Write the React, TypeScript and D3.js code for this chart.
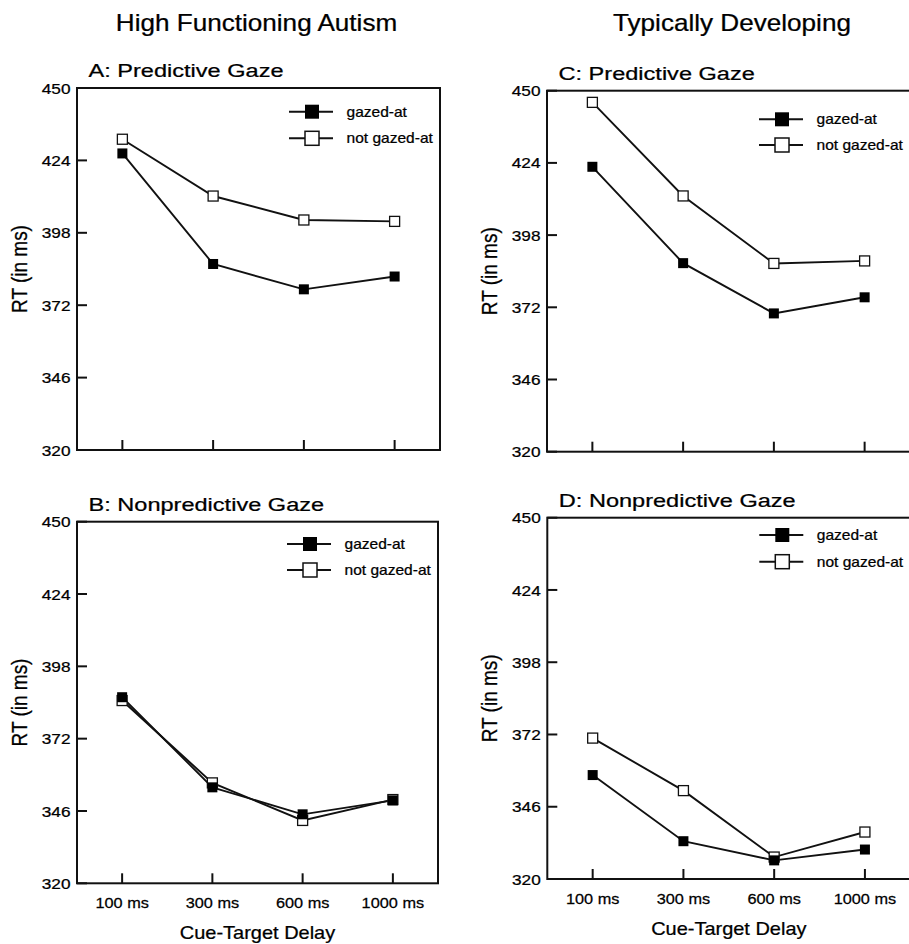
import React, { useEffect, useRef } from 'react';
import * as d3 from 'd3';

const delays = ['100 ms', '300 ms', '600 ms', '1000 ms'];
const yTicks = [320, 346, 372, 398, 424, 450];
const seriesNames = ['gazed-at', 'not gazed-at'];
const groupTitles = ['High Functioning Autism', 'Typically Developing'];

// RT values (ms)
const hfaPredGazed = [426.5, 386.8, 377.7, 382.3];
const hfaPredNot = [431.6, 411.2, 402.6, 402.1];
const hfaNonGazed = [386.9, 354.5, 344.8, 349.8];
const hfaNonNot = [385.7, 356.1, 342.6, 350.1];
const tdPredGazed = [422.6, 387.9, 369.8, 375.6];
const tdPredNot = [445.8, 412.1, 387.8, 388.7];
const tdNonGazed = [357.4, 333.6, 326.7, 330.6];
const tdNonNot = [370.7, 351.8, 327.9, 336.9];

const W = 909;
const H = 944;
const FONT = '"Liberation Sans", Arial, Helvetica, sans-serif';

const panels = [
  { title: 'A: Predictive Gaze', left: 77, top: 88, width: 363, height: 362, gazed: hfaPredGazed, not: hfaPredNot, legendDy: [23.7, 50.3], xLabels: false },
  { title: 'B: Nonpredictive Gaze', left: 77, top: 521.7, width: 361, height: 361.6, gazed: hfaNonGazed, not: hfaNonNot, legendDy: [22.3, 48.3], xLabels: true },
  { title: 'C: Predictive Gaze', left: 547, top: 90.7, width: 363, height: 361, gazed: tdPredGazed, not: tdPredNot, legendDy: [28.6, 54.3], xLabels: false },
  { title: 'D: Nonpredictive Gaze', left: 547.3, top: 517.7, width: 363, height: 361.3, gazed: tdNonGazed, not: tdNonNot, legendDy: [17.3, 44], xLabels: true },
];

export default function App() {
  const svgRef = useRef(null);

  useEffect(() => {
    const svg = d3.select(svgRef.current);
    svg.selectAll('*').remove();

    // the source picture is stretched sideways, so text gets an x scale
    const putText = (sel, x, y, size, sx, extra = '') =>
      sel.attr('transform', `translate(${x},${y}) scale(${sx},1)${extra}`)
        .style('font-size', size + 'px')
        .attr('fill', '#000')
        .attr('stroke', '#000')
        .attr('stroke-width', 0.25);

    [256.5, 732].forEach((cx, i) => {
      svg.append('text')
        .call(putText, cx, 31, 23, 1.135)
        .attr('text-anchor', 'middle')
        .text(groupTitles[i]);
    });

    panels.forEach(p => {
      const g = svg.append('g');
      const x = d3.scalePoint().domain(delays).range([p.left, p.left + p.width]).padding(0.5);
      const y = d3.scaleLinear().domain([320, 450]).range([p.top + p.height, p.top]);
      const right = p.left + p.width;
      const bottom = p.top + p.height;

      g.append('text')
        .call(putText, p.left + 11.5, p.top - 11, 19, 1.24)
        .text(p.title);

      g.append('rect')
        .attr('x', p.left).attr('y', p.top)
        .attr('width', p.width).attr('height', p.height)
        .attr('fill', 'none').attr('stroke', '#111').attr('stroke-width', 2);

      // y ticks point inward
      yTicks.forEach(t => {
        g.append('line')
          .attr('x1', p.left).attr('x2', p.left + 10)
          .attr('y1', y(t)).attr('y2', y(t))
          .attr('stroke', '#111').attr('stroke-width', 2);
        g.append('text')
          .call(putText, p.left - 6.5, y(t), 15.4, 1.12)
          .attr('text-anchor', 'end')
          .attr('dy', '0.36em')
          .text(t);
      });

      delays.forEach(d => {
        g.append('line')
          .attr('x1', x(d)).attr('x2', x(d))
          .attr('y1', bottom).attr('y2', bottom - 10)
          .attr('stroke', '#111').attr('stroke-width', 2);
        if (p.xLabels) {
          g.append('text')
            .call(putText, x(d), bottom + 25, 15.4, 1.06)
            .attr('text-anchor', 'middle')
            .text(d);
        }
      });

      if (p.xLabels) {
        g.append('text')
          .call(putText, p.left + p.width / 2, bottom + 55.5, 18, 1.11)
          .attr('text-anchor', 'middle')
          .text('Cue-Target Delay');
      }

      g.append('text')
        .call(putText, p.left - 58, p.top + p.height / 2, 19, 1.18, ' rotate(-90)')
        .attr('text-anchor', 'middle')
        .attr('dy', '0.36em')
        .text('RT (in ms)');

      const line = d3.line().x((v, i) => x(delays[i])).y(v => y(v));
      [p.not, p.gazed].forEach(vals => {
        g.append('path')
          .attr('d', line(vals))
          .attr('fill', 'none')
          .attr('stroke', '#111')
          .attr('stroke-width', 1.9);
      });

      const ms = 10;
      g.selectAll('.open').data(p.not).enter()
        .append('rect')
        .attr('x', (v, i) => x(delays[i]) - ms / 2)
        .attr('y', v => y(v) - ms / 2)
        .attr('width', ms).attr('height', ms)
        .attr('fill', 'white').attr('stroke', '#111').attr('stroke-width', 1.3);
      g.selectAll('.filled').data(p.gazed).enter()
        .append('rect')
        .attr('x', (v, i) => x(delays[i]) - ms / 2)
        .attr('y', v => y(v) - ms / 2)
        .attr('width', ms).attr('height', ms)
        .attr('fill', '#000');

      // legend
      seriesNames.forEach((name, i) => {
        const ly = p.top + p.legendDy[i];
        const lx = right - 151;
        g.append('line')
          .attr('x1', lx).attr('x2', lx + 44)
          .attr('y1', ly).attr('y2', ly)
          .attr('stroke', '#111').attr('stroke-width', 1.9);
        g.append('rect')
          .attr('x', lx + 23 - 7).attr('y', ly - 7)
          .attr('width', 14).attr('height', 14)
          .attr('fill', i === 0 ? '#000' : 'white')
          .attr('stroke', '#111').attr('stroke-width', i === 0 ? 0 : 1.5);
        g.append('text')
          .call(putText, lx + 57.5, ly, 14, 1.11)
          .attr('dy', '0.36em')
          .text(name);
      });
    });
  }, []);

  return (
    <svg ref={svgRef} width={W} height={H}
      style={{ position: 'absolute', left: 0, top: 0, background: 'white', fontFamily: FONT }} />
  );
}
